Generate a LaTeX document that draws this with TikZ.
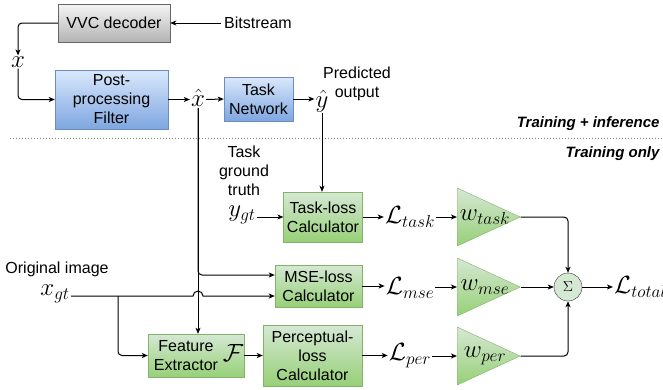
\documentclass[tikz,border=0pt]{standalone}
\usepackage{fontspec}
\setmainfont{Liberation Sans}
\usetikzlibrary{arrows.meta, shapes.geometric}

\definecolor{grayTop}{HTML}{F5F5F5}
\definecolor{grayBot}{HTML}{B3B3B3}
\definecolor{grayLine}{HTML}{666666}
\definecolor{blueTop}{HTML}{DAE8FC}
\definecolor{blueBot}{HTML}{7EA6E0}
\definecolor{blueLine}{HTML}{6C8EBF}
\definecolor{greenTop}{HTML}{D5E8D4}
\definecolor{greenBot}{HTML}{97D077}
\definecolor{greenLine}{HTML}{82B366}

\begin{document}
\begin{tikzpicture}[
  x=1pt, y=-1pt,
  every node/.style={font=\fontsize{16}{19}\selectfont, align=center},
  mathlbl/.style={font=\fontsize{25}{27}\selectfont, inner sep=1pt},
  graybox/.style={draw=grayLine, top color=grayTop, bottom color=grayBot},
  bluebox/.style={draw=blueLine, top color=blueTop, bottom color=blueBot},
  greenbox/.style={draw=greenLine, top color=greenTop, bottom color=greenBot},
  gain/.style={isosceles triangle, isosceles triangle stretches, draw=greenLine,
    top color=greenTop, bottom color=greenBot, minimum width=58pt,
    minimum height=63pt, inner sep=0pt, anchor=lower side},
  edge/.style={-{Stealth[length=6pt, width=5pt, inset=1.5pt]}, line width=1pt},
  phase/.style={font=\fontsize{15}{17}\selectfont\bfseries\itshape, anchor=east}
]
\useasboundingbox (0,0) rectangle (663,389);

% inference chain
\node[graybox, minimum width=112pt, minimum height=38pt] (vvc) at (114,23) {VVC decoder};
\node (bits) at (258,23) {Bitstream};
\node[mathlbl] (x) at (18,62) {$x$};
\node[bluebox, minimum width=113pt, minimum height=59pt] (ppf) at (111.5,99.5) {Post-\\processing\\Filter};
\node[mathlbl] (xhat) at (198,98) {$\hat{x}$};
\node[bluebox, minimum width=69pt, minimum height=44pt] (tn) at (258.5,99) {Task\\Network};
\node[mathlbl] (yhat) at (322,101) {$\hat{y}$};
\node (pred) at (357,84) {Predicted\\output};

\draw[edge] (bits.west) -- (vvc.east);
\draw[edge, rounded corners=4pt] (vvc.west) -| (x.north);
\draw[edge, rounded corners=4pt] (x.south) |- (ppf.west);
\draw[edge] (ppf.east) -- (ppf.east -| xhat.west);
\draw[edge] (ppf.east -| xhat.east) -- (tn.west);
\draw[edge] (tn.east) -- (tn.east -| yhat.west);

% separator
\draw[dotted, line width=1pt, gray] (10,138) -- (663,138);
\node[phase] (trinf) at (663,124) {Training + inference};
\node[phase] (tronly) at (663,154) {Training only};

% loss calculators
\node (tgt) at (244,171) {Task\\ground\\truth};
\node[mathlbl] (ygt) at (242,215) {$y_{gt}$};
\node[greenbox, minimum width=78pt, minimum height=50pt] (tlc) at (323,217) {Task-loss\\Calculator};
\node[greenbox, minimum width=87pt, minimum height=42pt] (mlc) at (318.5,286) {MSE-loss\\Calculator};
\node (orig) at (57,269) {Original image};
\node[mathlbl] (xgt) at (55,294) {$x_{gt}$};
\node[greenbox, minimum width=96pt, minimum height=43pt] (fe) at (196,355.5) {};
\node (felbl) at (186,355.5) {Feature\\Extractor};
\node[mathlbl] (fcal) at (233,353) {$\mathcal{F}$};
\node[greenbox, minimum width=99pt, minimum height=61pt] (plc) at (312.5,355.5) {Perceptual-\\loss\\Calculator};

\coordinate (mlcin1) at ([yshift=11pt]mlc.west);
\coordinate (mlcin2) at ([yshift=-10pt]mlc.west);
\coordinate (xsplit) at (118,296);

\draw[edge] (yhat.south) -- (yhat.south |- tlc.north);
\draw[edge] (ygt.east |- tlc.west) -- (tlc.west);
\draw[edge] (xhat.south) -- (xhat.south |- fe.north);
\draw[edge, rounded corners=4pt] (xhat.south) |- (mlcin1);
\draw[edge] (xgt.east |- mlcin2) -- ([xshift=-5pt]xhat.south |- mlcin2)
  arc[start angle=180, end angle=0, radius=5pt] -- (mlcin2);
\draw[edge, rounded corners=4pt] (xsplit) |- (fe.west);
\draw[edge] (fe.east) -- (plc.west);

% weighting and sum
\node[mathlbl] (ltask) at (410,217) {$\mathcal{L}_{task}$};
\node[mathlbl] (lmse) at (410,288) {$\mathcal{L}_{mse}$};
\node[mathlbl] (lper) at (410,356) {$\mathcal{L}_{per}$};
\node[gain] (wtask) at (457,217) {};
\node[gain] (wmse) at (457,287) {};
\node[gain] (wper) at (457,356) {};
\node[mathlbl] (wtasklbl) at (485,217) {$w_{task}$};
\node[mathlbl] (wmselbl) at (485,287) {$w_{mse}$};
\node[mathlbl] (wperlbl) at (485,356) {$w_{per}$};
\node[circle, draw=black!80, fill=greenTop, minimum size=28pt, inner sep=0pt,
  font=\fontsize{15}{17}\selectfont] (sum) at (568,287) {$\Sigma$};
\node[mathlbl, anchor=west] (ltot) at (613,287) {$\mathcal{L}_{total}$};

\draw[edge] (tlc.east) -- (tlc.east -| ltask.west);
\draw[edge] (mlc.east) -- (mlc.east -| lmse.west);
\draw[edge] (plc.east) -- (plc.east -| lper.west);
\draw[edge] (ltask.east |- wtask.lower side) -- (wtask.lower side);
\draw[edge] (lmse.east |- wmse.lower side) -- (wmse.lower side);
\draw[edge] (lper.east |- wper.lower side) -- (wper.lower side);
\draw[edge, rounded corners=4pt] (wtask.apex) -| (sum.north);
\draw[edge] (wmse.apex) -- (sum.west);
\draw[edge, rounded corners=4pt] (wper.apex) -| (sum.south);
\draw[edge] (sum.east) -- (ltot.west);
\end{tikzpicture}
\end{document}
